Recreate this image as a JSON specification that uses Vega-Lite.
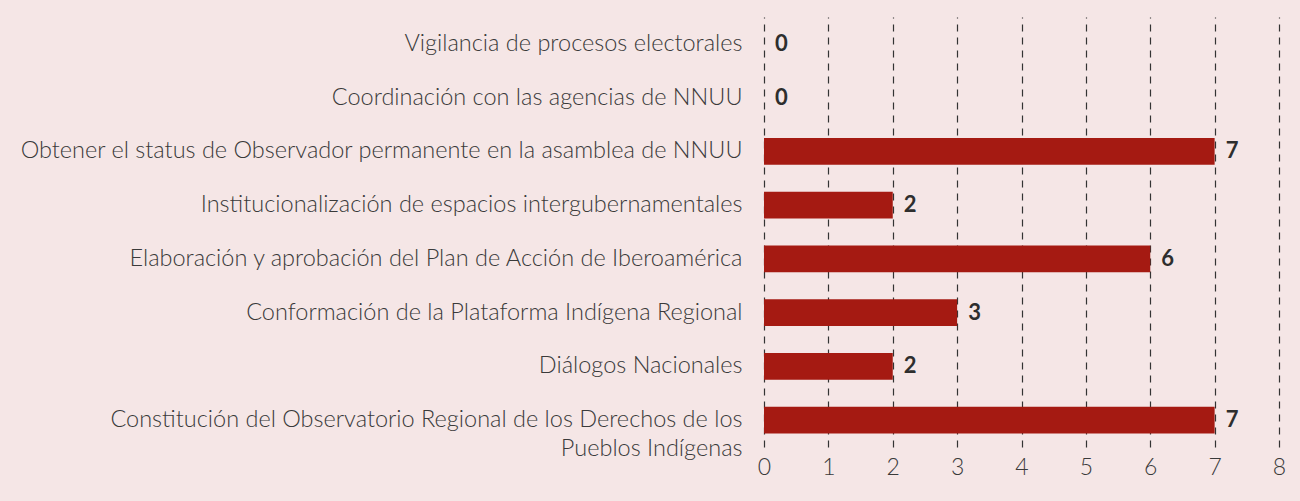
{
  "$schema": "https://vega.github.io/schema/vega-lite/v6.json",
  "autosize": "none",
  "width": 515,
  "height": 430,
  "padding": {"left": 764, "top": 17, "right": 21, "bottom": 54},
  "background": "#f5e6e6",
  "config": {"view": {"stroke": null}},
  "data": {
    "values": [
      {"tema": "Vigilancia de procesos electorales", "n": 0},
      {"tema": "Coordinación con las agencias de NNUU", "n": 0},
      {"tema": "Obtener el status de Observador permanente en la asamblea de NNUU", "n": 7},
      {"tema": "Institucionalización de espacios intergubernamentales", "n": 2},
      {"tema": "Elaboración y aprobación del Plan de Acción de Iberoamérica", "n": 6},
      {"tema": "Conformación de la Plataforma Indígena Regional", "n": 3},
      {"tema": "Diálogos Nacionales", "n": 2},
      {"tema": "Constitución del Observatorio Regional de los Derechos de los Pueblos Indígenas", "n": 7}
    ]
  },
  "encoding": {
    "y": {
      "field": "tema",
      "type": "nominal",
      "sort": null,
      "title": null,
      "scale": {"paddingInner": 0.5, "paddingOuter": 0.25},
      "axis": {
        "domain": false,
        "ticks": false,
        "labelFont": "Lato",
        "labelFontWeight": 300,
        "labelFontSize": 23.5,
        "labelColor": "#3a3a3a",
        "labelPadding": 22,
        "labelLimit": 900,
        "labelLineHeight": 29,
        "labelExpr": "indexof(datum.label, 'Constitución') == 0 ? ['Constitución del Observatorio Regional de los Derechos de los', 'Pueblos Indígenas'] : datum.label"
      }
    },
    "x": {
      "field": "n",
      "type": "quantitative",
      "title": null,
      "scale": {"domain": [0, 8], "nice": false},
      "axis": {
        "values": [0, 1, 2, 3, 4, 5, 6, 7, 8],
        "domain": false,
        "ticks": false,
        "grid": true,
        "gridDash": [7, 6],
        "gridColor": "#333333",
        "gridWidth": 1.2,
        "labelFont": "Lato",
        "labelFontWeight": 300,
        "labelFontSize": 23,
        "labelColor": "#3a3a3a",
        "labelPadding": 9,
        "labelFlush": false
      }
    }
  },
  "layer": [
    {"mark": {"type": "bar", "color": "#a51a12"}},
    {
      "mark": {"type": "text", "align": "left", "baseline": "middle", "dx": 11, "font": "Lato", "fontWeight": "bold", "fontSize": 22, "color": "#2e2e2e"},
      "encoding": {"text": {"field": "n", "type": "quantitative"}}
    }
  ]
}
